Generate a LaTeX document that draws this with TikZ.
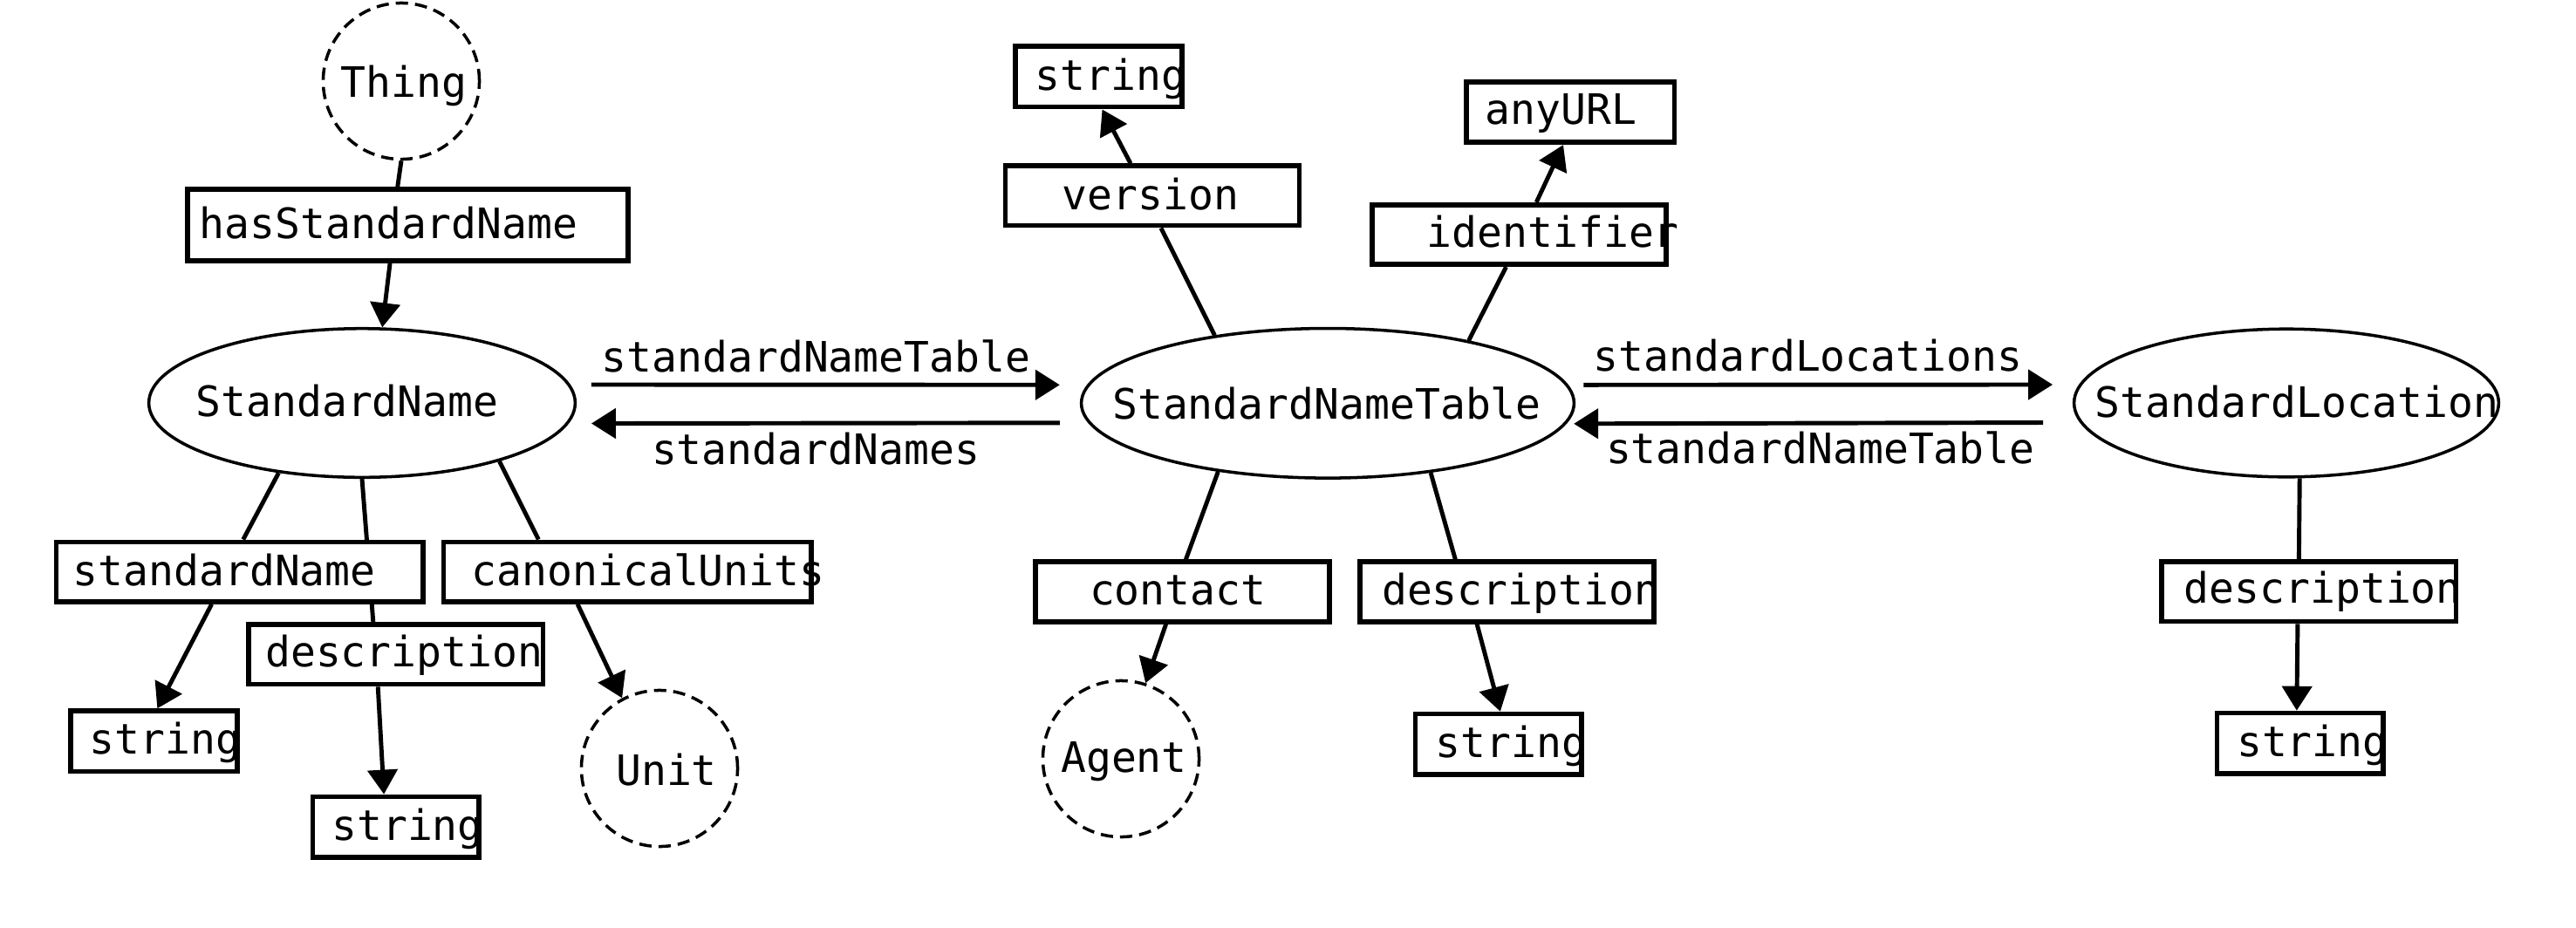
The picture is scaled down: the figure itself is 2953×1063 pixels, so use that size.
\documentclass[tikz,border=0pt]{standalone}
\usepackage{fontspec}
\newfontfamily\dvm{DejaVu Sans Mono}
\usetikzlibrary{shapes.geometric,arrows.meta}
\pgfdeclarelayer{background}
\pgfsetlayers{background,main}
\begin{document}
\begin{tikzpicture}[x=0.01cm,y=-0.01cm,
  txt/.style={font=\dvm\fontsize{13.66}{16}\selectfont, inner sep=0pt, anchor=base west},
  box/.style={draw, line width=1.6pt, fill=white, inner sep=0pt, minimum height=0.685cm},
  strbox/.style={minimum width=1.905cm, minimum height=0.695cm},
  oval/.style={draw, ellipse, line width=1.0pt, inner sep=0pt},
  ext/.style={draw, circle, line width=1.0pt, dash pattern=on 4pt off 2.3pt, inner sep=0pt, minimum size=1.79cm},
  link/.style={line width=1.4pt},
  arr/.style={link, -{Triangle[length=0.28cm,width=0.34cm]}},
]
\useasboundingbox (0,0) rectangle (2953,1063);

% ellipses and circles
\node[oval, minimum width=4.885cm, minimum height=1.705cm] (sn) at (415,462) {};
\node[oval, minimum width=5.645cm, minimum height=1.715cm] (snt) at (1522,462.3) {};
\node[oval, minimum width=4.865cm, minimum height=1.695cm] (sl) at (2621,462) {};
\node[ext] (thing) at (460,93) {};
\node[ext] (unit) at (756,881) {};
\node[ext] (agent) at (1285,870) {};

% boxes
\node[box, minimum width=5.045cm, minimum height=0.82cm] (hsn) at (467.5,258) {};
\node[box, minimum width=4.205cm] (sname) at (274.9,655.6) {};
\node[box, minimum width=4.215cm] (cu) at (719.2,655.6) {};
\node[box, minimum width=3.37cm] (desc1) at (453.8,750.3) {};
\node[box, strbox] (str1) at (176.4,849.9) {};
\node[box, strbox] (str2) at (453.8,948.2) {};
\node[box, strbox] (str3) at (1259.6,87.9) {};
\node[box, minimum width=3.365cm] (ver) at (1321,224.4) {};
\node[box, minimum width=2.385cm, minimum height=0.695cm] (url) at (1800,128.5) {};
\node[box, minimum width=3.365cm] (ident) at (1741.5,269) {};
\node[box, minimum width=3.365cm] (contact) at (1355.5,678.5) {};
\node[box, minimum width=3.37cm] (desc2) at (1727.7,678.5) {};
\node[box, strbox] (str4) at (1717.9,853.3) {};
\node[box, minimum width=3.37cm] (desc3) at (2646.7,678.3) {};
\node[box, strbox] (str5) at (2636.8,852.3) {};

% texts
\node[txt] (t-thing) at (390,111.4) {Thing};
\node[txt] (t-hsn) at (228,273.2) {hasStandardName};
\node[txt] (t-sn) at (223.8,477.5) {StandardName};
\node[txt] (t-snt) at (1274.5,480.2) {StandardNameTable};
\node[txt] (t-sl) at (2400.7,478.2) {StandardLocation};
\node[txt] (t-sname) at (83,671.3) {standardName};
\node[txt] (t-cu) at (540,671.3) {canonicalUnits};
\node[txt] (t-desc1) at (303.5,764.1) {description};
\node[txt] (t-str1) at (102,864.6) {string};
\node[txt] (t-str2) at (379.6,963.3) {string};
\node[txt] (t-unit) at (705.5,900.2) {Unit};
\node[txt] (t-str3) at (1185.7,103.5) {string};
\node[txt] (t-ver) at (1217,240) {version};
\node[txt] (t-url) at (1701.7,142.8) {anyURL};
\node[txt] (t-ident) at (1635,283.8) {identifier};
\node[txt] (t-contact) at (1248.3,693.2) {contact};
\node[txt] (t-desc2) at (1583.4,693.2) {description};
\node[txt] (t-str4) at (1645,868) {string};
\node[txt] (t-desc3) at (2503,691.7) {description};
\node[txt] (t-str5) at (2563.4,867.9) {string};
\node[txt] (t-agent) at (1215.5,885.3) {Agent};

% edge labels
\node[txt] (l-snt1) at (689,426.7) {standardNameTable};
\node[txt] (l-sns) at (746.3,532) {standardNames};
\node[txt] (l-sls) at (1826,425.8) {standardLocations};
\node[txt] (l-snt2) at (1840.3,531) {standardNameTable};

\begin{pgfonlayer}{background}
\draw[link] (thing.270) -- (hsn.105);
\draw[arr] (hsn.245) -- (sn.75);
\draw[link] (sn.220) -- (sname.84);
\draw[link] (sn.270) -- (desc1.125);
\draw[link] (sn.337) -- (cu.160);
\draw[arr] (sname.229) -- (str1.84);
\draw[arr] (desc1.241) -- (str2.110);
\draw[arr] (cu.213) -- (unit.118);
\draw[link] (snt.149) -- (ver.285);
\draw[arr] (ver.124) -- (str3.276);
\draw[link] (snt.24) -- (ident.248);
\draw[arr] (ident.62) -- (url.258);
\draw[link] (snt.212) -- (contact.84);
\draw[arr] (contact.243) -- (agent.72);
\draw[link] (snt.326) -- (desc2.148);
\draw[arr] (desc2.227) -- (str4.87);
\draw[link] (sl.280) -- (desc3.107);
\draw[arr] (desc3.251) -- (str5.96);
% horizontal relations
\draw[arr] ([xshift=0.168cm,yshift=0.21cm]sn.east) -- ([xshift=-0.23cm,yshift=0.21cm]snt.west);
\draw[arr] ([xshift=-0.23cm,yshift=-0.225cm]snt.west) -- ([xshift=0.168cm,yshift=-0.235cm]sn.east);
\draw[arr] ([xshift=0.093cm,yshift=0.21cm]snt.east) -- ([xshift=-0.228cm,yshift=0.21cm]sl.west);
\draw[arr] ([xshift=-0.338cm,yshift=-0.225cm]sl.west) -- ([xshift=-0.02cm,yshift=-0.235cm]snt.east);
\end{pgfonlayer}
\end{tikzpicture}
\end{document}
